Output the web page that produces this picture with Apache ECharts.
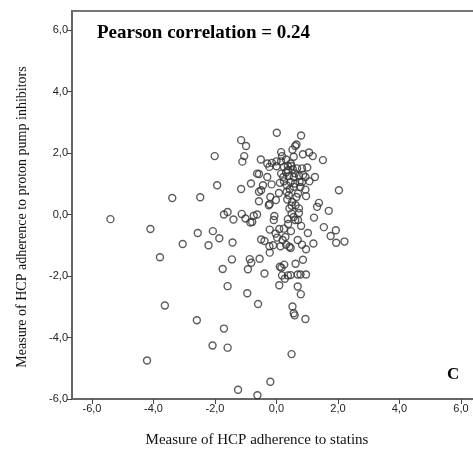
<!DOCTYPE html>
<html>
<head>
<meta charset="utf-8">
<script src="https://cdn.jsdelivr.net/npm/echarts@6/dist/echarts.min.js"></script>
<style>
  html, body { margin: 0; padding: 0; background: #fff; }
  #chart { width: 473px; height: 453px; }
</style>
</head>
<body>
<div id="chart"></div>
<script>
// Statins adherence (x) vs PPI adherence (y), one entry per HCP
const statinValues = [
  -5.40, -4.10, -3.79, -3.39, -3.63, -4.21, -3.05, -2.59, -2.56, -2.48,
  -2.21, -2.07, -2.01, -1.93, -1.86, -2.08, -1.71, -1.59, -1.75, -1.59,
  -1.71, -1.59, -1.40, -1.43, -1.45, -1.25, -1.15, -0.99, -1.05, -1.11,
  -1.15, -1.13, -1.01, -0.83, -0.85, -0.87, -0.82, -0.93, -0.95, -0.74,
  -0.63, -0.57, -0.57, -0.51, -0.55, -0.60, -0.62, -0.20, 0.49, 0.52,
  0.56, 0.59, 0.94, -0.50, -0.39, 0.09, 0.11, 0.16, 0.25, 0.18,
  0.27, 0.37, 0.46, 0.69, 0.78, 0.96, 0.62, 0.86, 0.69, 0.79,
  0.01, 0.80, 0.65, 0.61, 0.52, 0.15, 0.86, 1.06, 1.18, 1.51,
  2.03, 1.25, 1.00, 1.38, 1.32, 1.70, 1.22, 1.54, 1.93, 1.76,
  1.94, 2.21, 1.20, 1.02, 0.96, 0.83, 0.69, 0.80, 0.70, 0.61,
  0.47, 0.42, 0.46, 0.31, 0.13, 0.20, 0.02, -0.11, -0.22, -0.23,
  -0.39, -0.22, 0.09, -0.09, -0.07, 0.37, 0.38, 0.49, 0.73, 0.73,
  -0.22, -0.20, -0.02, -0.50, -0.44, -0.16, 0.08, 0.11, 0.15, -0.30,
  -0.23, -0.30, -0.15, 0.00, 0.15, 0.31, 0.37, 0.49, 0.53, 0.31,
  0.40, 0.60, 0.73, 0.87, 0.83, 1.07, 0.94, 0.96, 0.70, 0.56,
  0.43, 0.33, 0.35, 0.51, 0.42, 0.49, 0.65, 0.60, 0.75, 0.46,
  0.24, -0.63, 0.00, -0.57, 0.56, 0.18, 0.67, 0.46, 0.24, 0.37,
  0.56, 0.78, 0.33, 0.62, 0.40, 0.22, 0.83, 0.56, 0.24, 0.29,
  -0.25, -0.03, -0.79, 0.94
];
const ppiValues = [
  -0.15, -0.47, -1.39, 0.54, -2.96, -4.75, -0.96, -3.44, -0.60, 0.56,
  -1.00, -0.54, 1.90, 0.95, -0.77, -4.26, -3.71, -4.33, -1.77, -2.33,
  0.00, 0.08, -0.16, -0.91, -1.46, -5.70, 2.42, 2.23, 1.90, 1.72,
  0.83, 0.02, -0.13, 1.01, -0.26, -1.45, -1.57, -1.78, -2.56, -0.04,
  0.00, 1.32, 0.43, 1.79, -1.44, -2.91, -5.88, -5.44, -4.54, -2.99,
  -3.21, -3.28, -3.40, -0.81, -1.92, -2.30, -1.70, -1.73, -1.63, -1.98,
  -2.09, -1.98, -1.97, -1.95, -1.95, -1.95, -1.60, -1.47, -2.34, -2.59,
  2.66, 2.57, 2.28, 2.23, 2.11, 2.03, 1.96, 2.02, 1.90, 1.77,
  0.79, 1.22, 1.53, 0.38, 0.25, 0.12, -0.10, -0.41, -0.51, -0.70,
  -0.92, -0.88, -0.94, -0.60, -1.13, -0.98, -0.83, -0.37, -0.18, -0.18,
  -0.54, -1.05, -1.09, -0.98, -1.03, -0.83, -0.75, -1.00, -1.24, -1.03,
  -0.86, -0.49, -0.47, -0.18, -0.05, -0.15, -0.31, 0.03, 0.05, 0.20,
  0.34, 0.57, 0.47, 0.79, 0.95, 0.98, 0.70, 1.03, 1.33, 1.22,
  1.55, 1.66, 1.68, 1.73, 1.73, 1.79, 1.58, 1.58, 1.47, 1.37,
  1.25, 1.34, 1.26, 1.29, 1.06, 1.08, 0.81, 0.60, 0.68, 0.90,
  0.82, 0.95, 0.49, 0.41, 0.20, 0.29, 0.57, 1.01, 1.06, 1.06,
  1.08, 1.33, 1.57, 0.74, 1.88, 1.90, 1.50, 1.66, 1.55, 1.44,
  1.22, 0.90, 0.74, 0.30, 0.63, 1.22, 1.50, -0.08, -0.46, -0.73,
  0.30, -0.62, -0.24, 1.22
];
const tickValues = [-6, -4, -2, 0, 2, 4, 6];

const points = statinValues.map((x, i) => [x, ppiValues[i]]);

const fmt = (v) => v.toFixed(1).replace('.', ',');
const serif = '"Liberation Serif", "DejaVu Serif", serif';
const sans = '"Liberation Sans", Arial, sans-serif';

const axisCommon = {
  type: 'value',
  splitLine: { show: false },
  axisLine: { show: true, onZero: false, lineStyle: { color: '#666', width: 2 } },
  axisTick: { show: true, length: 5, customValues: tickValues, lineStyle: { color: '#444', width: 1 } },
  axisLabel: {
    customValues: tickValues,
    formatter: fmt,
    color: '#222',
    fontFamily: sans,
    fontSize: 11,
    margin: 4,
  },
};

const chart = echarts.init(document.getElementById('chart'));
chart.setOption({
  animation: false,
  backgroundColor: '#fff',
  grid: {
    left: 72,
    top: 11,
    width: 409,
    height: 388,
    outerBoundsMode: 'none',
    containLabel: false,
    show: true,
    borderColor: '#777',
    borderWidth: 2,
    backgroundColor: 'transparent',
  },
  xAxis: Object.assign({}, axisCommon, { min: -6.65, max: 6.65 }),
  yAxis: Object.assign({}, axisCommon, { min: -6, max: 6.62 }),
  series: [{
    type: 'scatter',
    data: points,
    symbol: 'circle',
    symbolSize: 7,
    itemStyle: { color: 'rgba(0,0,0,0)', borderColor: '#333', borderWidth: 1.4 },
  }],
  graphic: [
    {
      type: 'text', left: 97, top: 24,
      style: { text: 'Pearson correlation = 0.24', font: 'bold 19px ' + serif, fill: '#000' },
    },
    {
      type: 'text', left: 447, top: 366,
      style: { text: 'C', font: 'bold 17px ' + serif, fill: '#000' },
    },
    {
      type: 'text', x: 257, y: 440,
      style: { text: 'Measure of HCP adherence to statins', font: '15px ' + serif, fill: '#111', align: 'center', verticalAlign: 'middle' },
    },
    {
      type: 'text', x: 22, y: 217, rotation: Math.PI / 2,
      style: { text: 'Measure of HCP adherence to proton pump inhibitors', font: '14px ' + serif, fill: '#111', align: 'center', verticalAlign: 'middle' },
    },
  ],
});
</script>
</body>
</html>
